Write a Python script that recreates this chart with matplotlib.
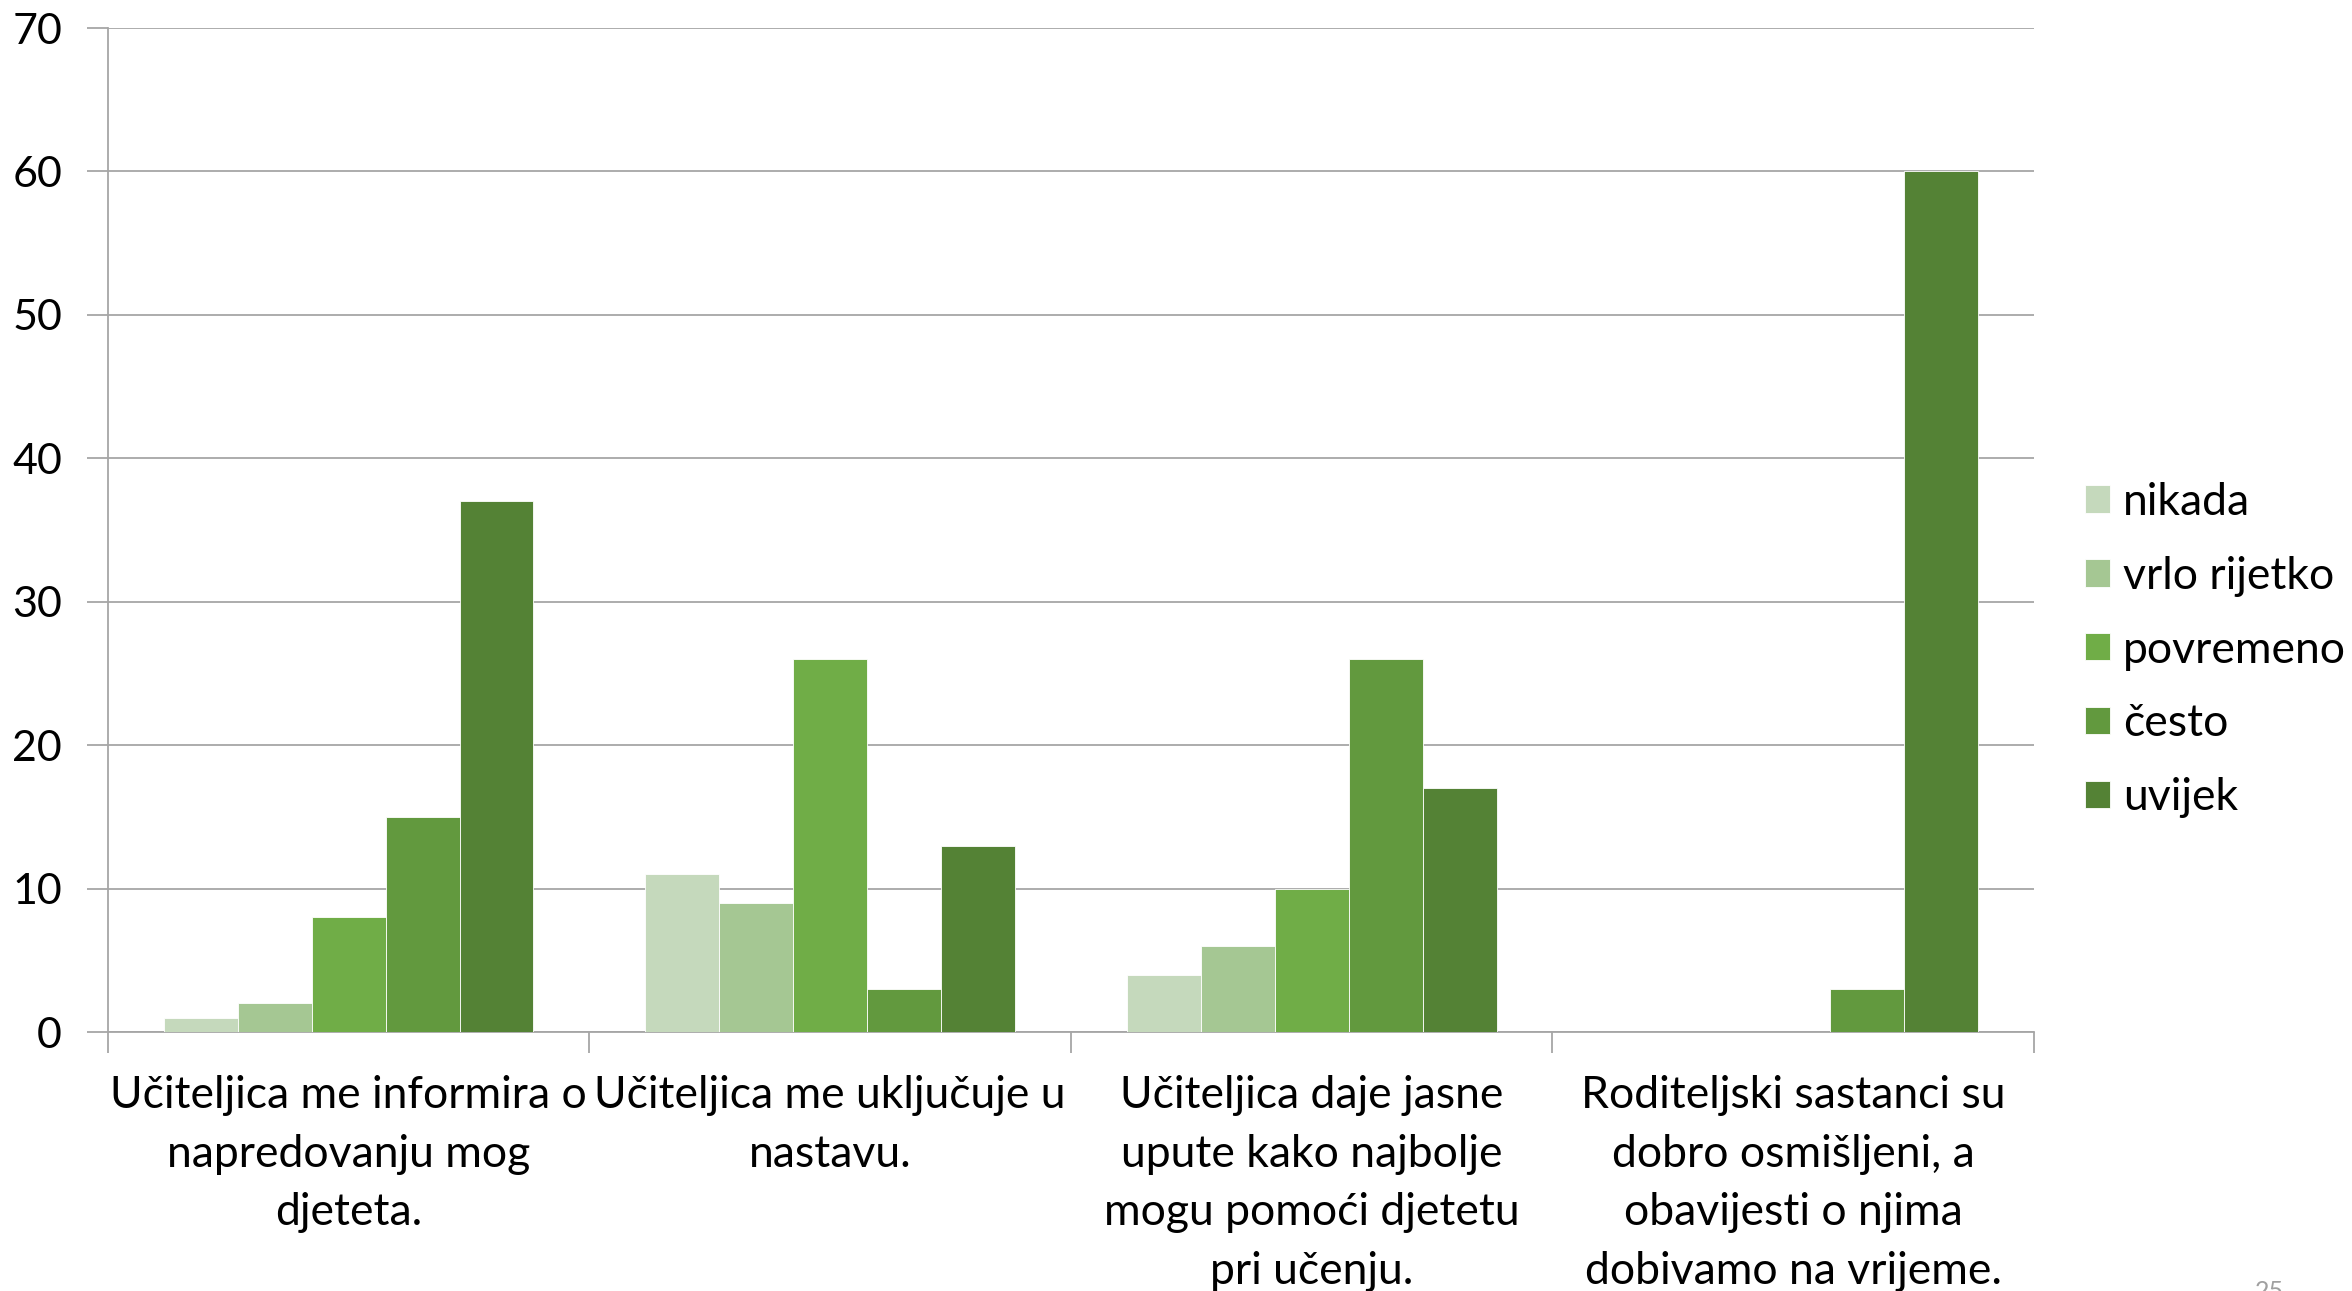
import numpy as np
import matplotlib
matplotlib.use("Agg")
import matplotlib.pyplot as plt

plt.rcParams['font.family'] = ['Lato', 'DejaVu Sans']

KATEGORIJE = [
    "Učiteljica me informira o\nnapredovanju mog\ndjeteta.",
    "Učiteljica me uključuje u\nnastavu.",
    "Učiteljica daje jasne\nupute kako najbolje\nmogu pomoći djetetu\npri učenju.",
    "Roditeljski sastanci su\ndobro osmišljeni, a\nobavijesti o njima\ndobivamo na vrijeme.",
]
SERIJE = ["nikada", "vrlo rijetko", "povremeno", "često", "uvijek"]
nikada = [1, 11, 4, 0]
vrlo_rijetko = [2, 9, 6, 0]
povremeno = [8, 26, 10, 0]
cesto = [15, 3, 26, 3]
uvijek = [37, 13, 17, 60]
VRIJEDNOSTI = [nikada, vrlo_rijetko, povremeno, cesto, uvijek]
BOJE = ["#C5D9BC", "#A5C793", "#70AD47", "#62993E", "#548235"]

fig = plt.figure(figsize=(23.52, 12.91), dpi=100)
ax = fig.add_axes([0.0459, 0.2006, 0.8189, 0.7777])

x = np.arange(len(KATEGORIJE))
w = 0.1535
for i, (naziv, vals, boja) in enumerate(zip(SERIJE, VRIJEDNOSTI, BOJE)):
    ax.bar(x + (i - 2) * w, vals, w, color=boja, label=naziv,
           edgecolor="white", linewidth=0.6, zorder=3)

ax.set_xlim(-0.5, len(KATEGORIJE) - 0.5)
ax.set_ylim(0, 70)
ax.set_yticks(range(0, 71, 10))
ax.yaxis.grid(True, color="#A6A6A6", lw=1.3, zorder=0)
ax.tick_params(axis="y", length=15, width=1.3, color="#A6A6A6",
               labelsize=31, pad=18)

ax.set_xticks(x)
ax.set_xticklabels(KATEGORIJE, fontsize=32, linespacing=1.53)
ax.set_xticks(np.arange(-0.5, len(KATEGORIJE), 1), minor=True)
ax.tick_params(axis="x", which="major", length=0, pad=31)
ax.tick_params(axis="x", which="minor", length=15, width=1.3,
               color="#A6A6A6")

for s in ["top", "right"]:
    ax.spines[s].set_visible(False)
for s in ["left", "bottom"]:
    ax.spines[s].set_color("#A6A6A6")
    ax.spines[s].set_linewidth(1.3)

fig.legend(loc="center left", bbox_to_anchor=(0.8865, 0.4965),
           frameon=False, fontsize=32, handlelength=0.57,
           handleheight=0.57, handletextpad=0.28, labelspacing=0.74,
           borderpad=0, borderaxespad=0)

fig.text(0.965, -0.006, "25", fontsize=18, color="#A0A0A0", ha="center")

fig.savefig("out.png", dpi=100)
